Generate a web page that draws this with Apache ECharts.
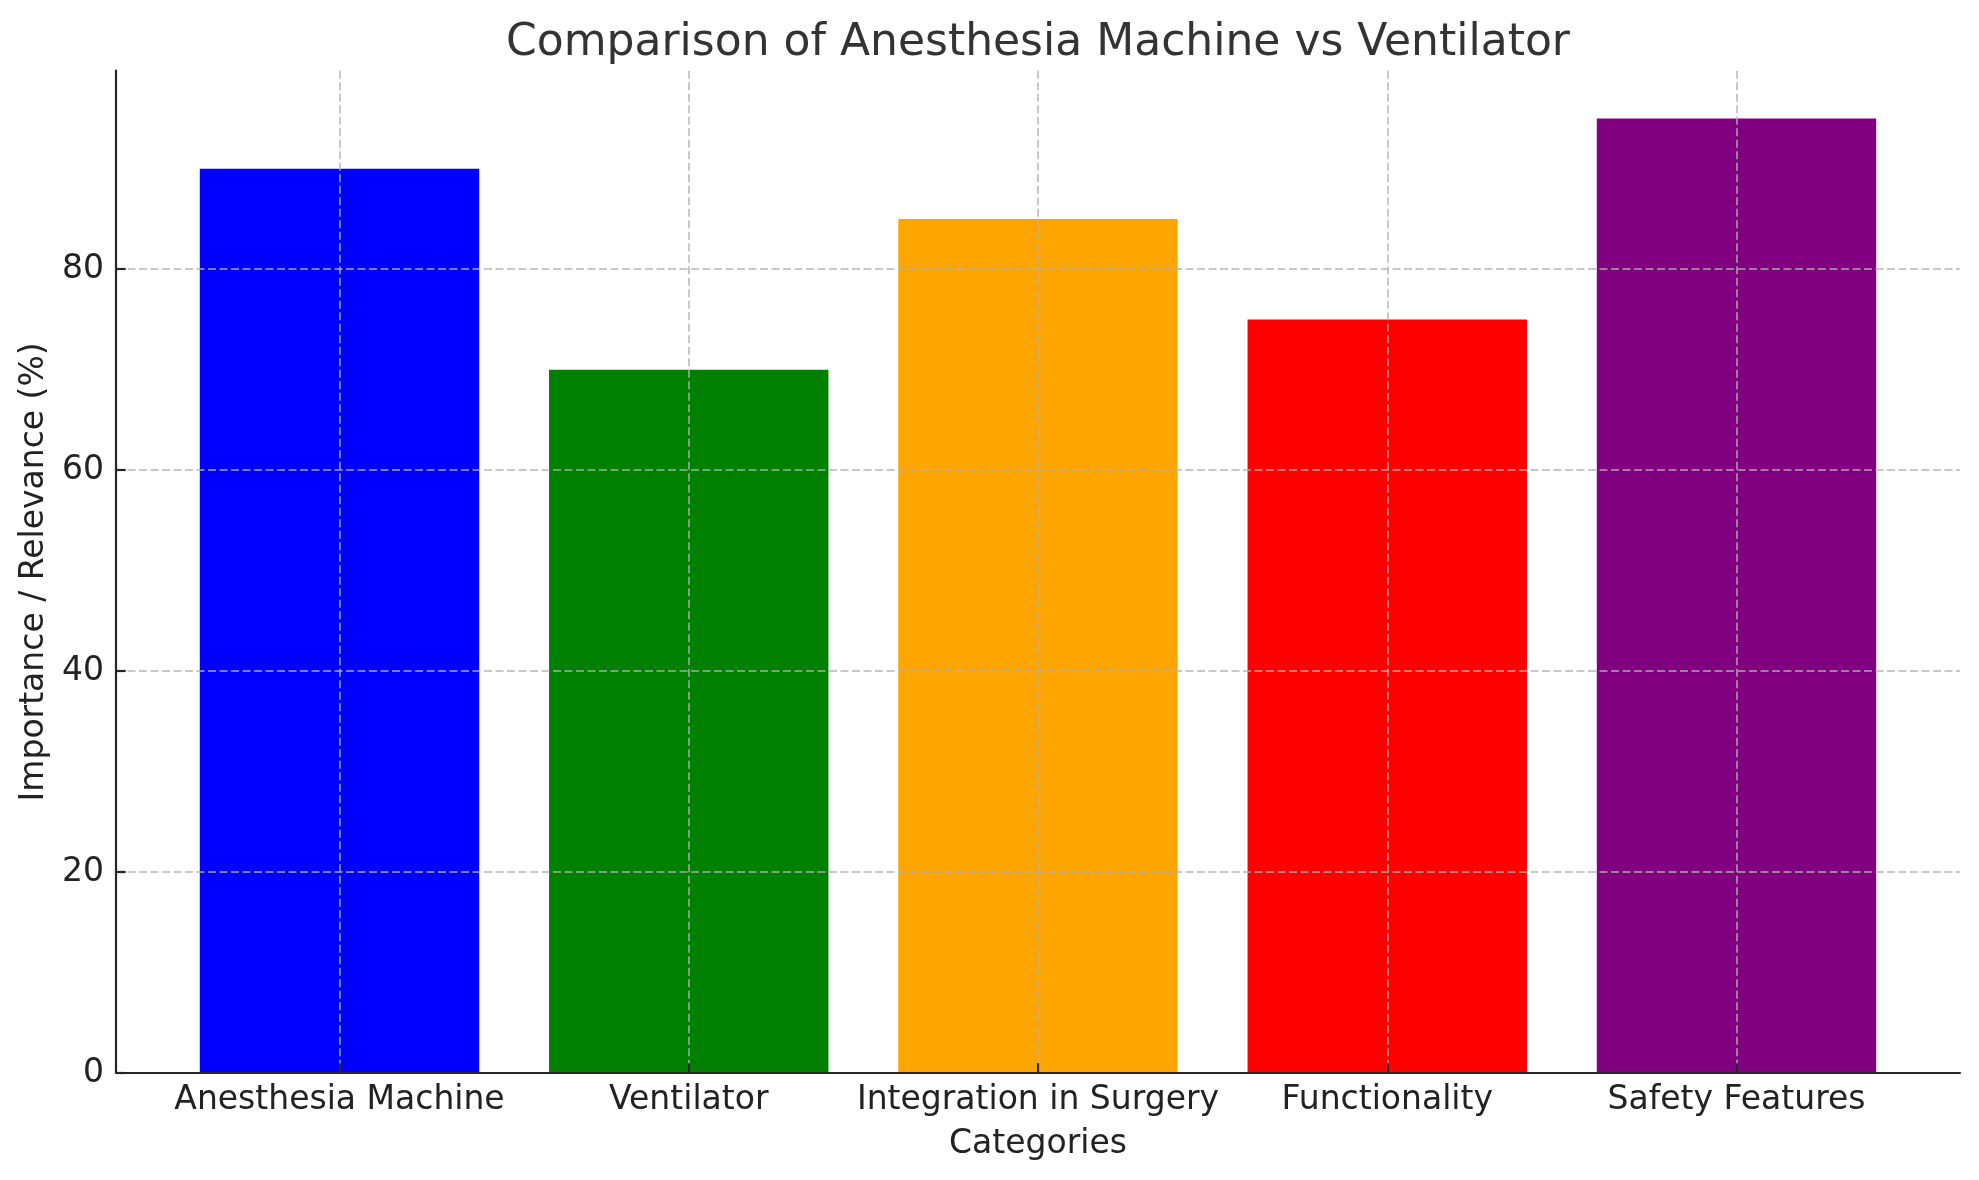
<!DOCTYPE html>
<html>
<head>
<meta charset="utf-8">
<script src="https://cdn.jsdelivr.net/npm/echarts@6/dist/echarts.min.js"></script>
<style>
html,body{margin:0;padding:0;background:#fff;}
#chart{width:1979px;height:1180px;}
</style>
</head>
<body>
<div id="chart"></div>
<script>
const categories = ['Anesthesia Machine', 'Ventilator', 'Integration in Surgery', 'Functionality', 'Safety Features'];
const values = [90, 70, 85, 75, 95];
const barColors = ['#0000ff', '#008000', '#ffa500', '#ff0000', '#800080'];
const yTicks = [0, 20, 40, 60, 80];
const titleText = 'Comparison of Anesthesia Machine vs Ventilator';
const xName = 'Categories';
const yName = 'Importance / Relevance (%)';

const FONT = 'DejaVu Sans';
const gridStyle = { color: 'rgba(176,176,176,0.7)', width: 2, type: [8, 3.5] };
const spine = '#262626';

const chart = echarts.init(document.getElementById('chart'), null, { renderer: 'canvas' });
const option = {
  backgroundColor: '#ffffff',
  animation: false,
  graphic: [
    {
      type: 'text', left: null, x: 1038, y: 22, z: 10,
      style: {
        text: titleText, x: 0, y: 0,
        align: 'center', verticalAlign: 'top',
        textAlign: 'center', textVerticalAlign: 'top',
        font: '44px "DejaVu Sans"', fill: '#333333'
      }
    }
  ],
  grid: [
    { left: 116, right: 19, top: 70.7, bottom: 107, containLabel: false },
    { left: 339.5, right: 242.5, top: 70.7, bottom: 107, containLabel: false }
  ],
  xAxis: [
    {
      type: 'value', gridIndex: 0, min: 0, max: 1,
      axisLine: { show: true, lineStyle: { color: spine, width: 2.2 } },
      axisTick: { show: false }, axisLabel: { show: false }, splitLine: { show: false },
      name: xName, nameLocation: 'middle', nameGap: 55,
      nameTextStyle: { fontFamily: FONT, fontSize: 33, color: '#222222' },
      z: 4
    },
    {
      type: 'value', gridIndex: 1, min: 0, max: 4, interval: 1,
      axisLine: { show: false },
      axisTick: { show: true, inside: true, length: 9.7, lineStyle: { color: spine, width: 2.2 } },
      axisLabel: {
        show: true, margin: 10.5, fontFamily: FONT, fontSize: 33, color: '#222222',
        formatter: function (v) { return categories[Math.round(v)] || ''; }
      },
      splitLine: { show: true, lineStyle: gridStyle },
      z: 3
    }
  ],
  yAxis: [
    {
      type: 'value', gridIndex: 0, min: 0, max: 99.75,
      axisLine: { show: true, lineStyle: { color: spine, width: 2.2 } },
      axisTick: { show: true, inside: true, length: 9.7, customValues: yTicks, lineStyle: { color: spine, width: 2.2 } },
      axisLabel: { show: true, margin: 12, customValues: yTicks, fontFamily: FONT, fontSize: 33, color: '#222222' },
      splitLine: { show: true, lineStyle: gridStyle },
      name: yName, nameLocation: 'middle', nameGap: 63,
      nameTextStyle: { fontFamily: FONT, fontSize: 33, color: '#222222' },
      z: 3
    },
    {
      type: 'value', gridIndex: 1, min: 0, max: 99.75, show: false,
      splitLine: { show: false }
    }
  ],
  series: [
    {
      type: 'bar', xAxisIndex: 1, yAxisIndex: 1,
      barWidth: 279.4, clip: false, z: 2,
      data: values.map(function (v, i) {
        return { value: [i, v], itemStyle: { color: barColors[i] } };
      })
    }
  ]
};
chart.setOption(option);
</script>
</body>
</html>
